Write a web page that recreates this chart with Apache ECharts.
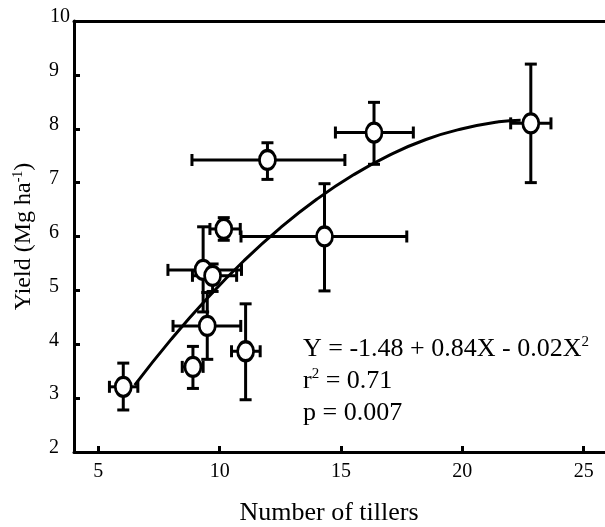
<!DOCTYPE html>
<html>
<head>
<meta charset="utf-8">
<script src="https://cdn.jsdelivr.net/npm/echarts@6/dist/echarts.min.js"></script>
<style>html,body{margin:0;padding:0;background:#fff}#c{width:605px;height:527px}</style>
</head>
<body>
<div id="c"></div>
<script>
// Data
const tillers    = [6.03, 8.90, 11.07, 9.49, 9.32, 9.71, 10.17, 11.97, 14.32, 16.36, 22.82];
const yieldMg    = [3.21, 3.58, 3.87, 4.34, 5.38, 5.27, 6.14, 7.42, 6.00, 7.93, 8.10];
const tillersLo  = [5.46, 8.46, 10.49, 8.08, 7.87, 8.88, 9.60, 8.86, 10.88, 14.77, 21.99];
const tillersHi  = [6.63, 9.32, 11.67, 10.87, 10.90, 10.70, 10.85, 15.16, 17.71, 17.98, 23.65];
const yieldLo    = [2.78, 3.18, 2.97, 3.72, 4.60, 4.98, 5.93, 7.06, 4.99, 7.34, 7.00];
const yieldHi    = [3.65, 3.96, 4.75, 4.96, 6.18, 5.49, 6.35, 7.74, 6.98, 8.49, 9.20];
// Fitted curve, points
const fitX = [6.5, 8.0, 9.5, 11.0, 12.5, 14.0, 15.5, 17.0, 18.5, 20.0, 21.5, 22.4];
const fitY = [3.24, 4.09, 4.86, 5.55, 6.16, 6.69, 7.14, 7.51, 7.80, 8.00, 8.13, 8.16];
const xTicks = [5, 10, 15, 20, 25];
const equationText = '{a|Y = -1.48 + 0.84X - 0.02X}{s|2}\n{a|r}{s|2}{a| = 0.71}\n{a|p = 0.007}';

const FONT = '"Liberation Serif", "Times New Roman", serif';
const chart = echarts.init(document.getElementById('c'));

const points = tillers.map((x, i) => [x, yieldMg[i]]);
const errData = tillers.map((x, i) => [x, yieldMg[i], tillersLo[i], tillersHi[i], yieldLo[i], yieldHi[i]]);
const fitData = fitX.map((x, i) => [x, fitY[i]]);

const LW = 3, CAP = 6;
function renderErr(params, api) {
  const x = api.value(0), y = api.value(1);
  const c = api.coord([x, y]);
  const xl = api.coord([api.value(2), y]);
  const xh = api.coord([api.value(3), y]);
  const yl = api.coord([x, api.value(4)]);
  const yh = api.coord([x, api.value(5)]);
  const st = {stroke: '#000', lineWidth: LW};
  const L = (x1, y1, x2, y2) => ({type: 'line', shape: {x1, y1, x2, y2}, style: st});
  return {
    type: 'group',
    children: [
      L(xl[0], c[1], xh[0], c[1]),
      L(xl[0], c[1] - CAP, xl[0], c[1] + CAP),
      L(xh[0], c[1] - CAP, xh[0], c[1] + CAP),
      L(c[0], yl[1], c[0], yh[1]),
      L(c[0] - CAP, yl[1], c[0] + CAP, yl[1]),
      L(c[0] - CAP, yh[1], c[0] + CAP, yh[1])
    ]
  };
}

chart.setOption({
  animation: false,
  backgroundColor: '#fff',
  grid: {left: 74, right: -3, top: 21, bottom: 75, outerBoundsMode: 'none', containLabel: false},
  xAxis: [{
    type: 'value', min: 4, max: 26,
    name: 'Number of tillers', nameLocation: 'middle', nameGap: 48,
    nameTextStyle: {fontFamily: FONT, fontSize: 26, color: '#000', padding: [0, 24, 0, 0]},
    axisLine: {lineStyle: {color: '#000', width: 3}},
    axisTick: {inside: true, length: 6, lineStyle: {color: '#000', width: 3}, customValues: xTicks},
    axisLabel: {fontFamily: FONT, fontSize: 20, color: '#000', margin: 10, customValues: xTicks},
    splitLine: {show: false}
  }, {
    type: 'value', min: 4, max: 26, position: 'top',
    axisLine: {show: true, lineStyle: {color: '#000', width: 3}},
    axisTick: {show: false}, axisLabel: {show: false}, splitLine: {show: false}
  }],
  yAxis: {
    type: 'value', min: 2, max: 10, interval: 1,
    name: '{a|Yield (Mg ha}{s|-1}{a|)}', nameLocation: 'middle', nameGap: 37,
    nameTextStyle: {
      fontFamily: FONT, fontSize: 24, color: '#000',
      rich: {
        a: {fontFamily: FONT, fontSize: 24, color: '#000'},
        s: {fontFamily: FONT, fontSize: 14, color: '#000', padding: [0, 0, 12, 0]}
      }
    },
    axisLine: {show: true, lineStyle: {color: '#000', width: 3}},
    axisTick: {show: true, inside: true, length: 6, lineStyle: {color: '#000', width: 3}},
    axisLabel: {
      fontFamily: FONT, fontSize: 20, color: '#000', margin: 15,
      padding: [0, 0, 8, 0],
      formatter: v => (v === 10 ? '{t|10}' : String(v)),
      rich: {t: {fontFamily: FONT, fontSize: 20, color: '#000', width: 9, align: 'left'}}
    },
    splitLine: {show: false}
  },
  series: [{
    type: 'line', data: fitData, smooth: true, symbol: 'none',
    lineStyle: {color: '#000', width: 3}, z: 1
  }, {
    type: 'custom', data: errData, renderItem: renderErr,
    encode: {x: [0, 2, 3], y: [1, 4, 5]}, z: 2
  }, {
    type: 'scatter', data: points, symbol: 'circle', symbolSize: [16, 19],
    itemStyle: {color: '#fff', borderColor: '#000', borderWidth: 3, opacity: 1}, z: 3
  }],
  graphic: [{
    type: 'text', left: 303, top: 335,
    style: {
      text: equationText, fill: '#000',
      rich: {
        a: {fontFamily: FONT, fontSize: 26, lineHeight: 32, fill: '#000'},
        s: {fontFamily: FONT, fontSize: 15, lineHeight: 32, fill: '#000', padding: [0, 0, 14, 0]}
      }
    }
  }]
});
</script>
</body>
</html>
